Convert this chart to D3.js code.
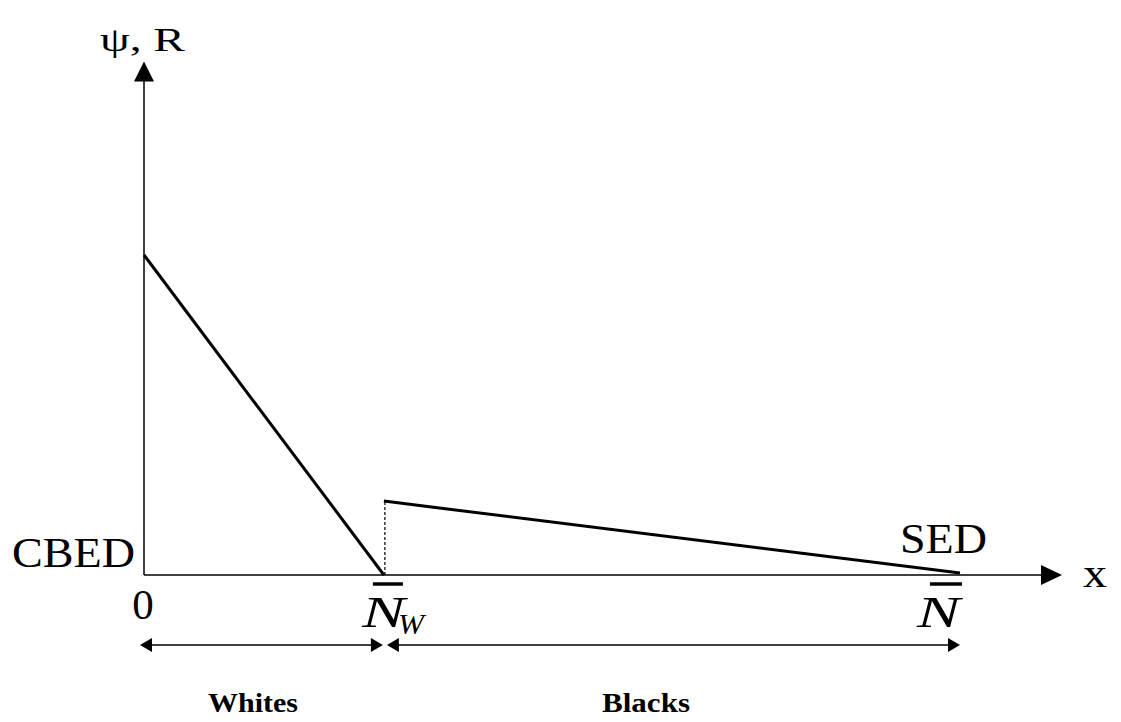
<!DOCTYPE html>
<html>
<head>
<meta charset="utf-8">
<script src="https://cdn.jsdelivr.net/npm/d3@7"></script>
<style>
  body { margin: 0; background: #fff; }
  text { font-family: "Liberation Serif", "Times New Roman", serif; fill: #000; }
</style>
</head>
<body>
<div id="chart"></div>
<script>
// positions along x (fraction of N) and the two curves
const xMarks = [0, 0.294, 1.0];
const whitesX = [0, 0.294];
const whitesY = [1.0, 0.0];
const blacksX = [0.294, 1.0];
const blacksY = [0.231, 0.006];

let svg = d3.select('#chart').append('svg')
    .attr('width', 1121)
    .attr('height', 722);

const x = d3.scaleLinear().domain([0, 1]).range([144, 960]);
const y = d3.scaleLinear().domain([0, 1]).range([575, 255]);

const xEnd = x(1.125);   // axis arrow tip
const yTop = y(1.605);

// axes
svg.append('line')
    .attr('x1', x(0)).attr('y1', y(0)).attr('x2', xEnd - 18).attr('y2', y(0))
    .attr('stroke', '#000').attr('stroke-width', 1.5);
svg.append('line')
    .attr('x1', x(0)).attr('y1', y(0)).attr('x2', x(0)).attr('y2', yTop + 18)
    .attr('stroke', '#000').attr('stroke-width', 1.5);

// arrow heads
svg.append('path')
    .attr('d', `M${xEnd},${y(0)} L${xEnd - 21},${y(0) - 10} L${xEnd - 21},${y(0) + 10} Z`);
svg.append('path')
    .attr('d', `M${x(0)},${yTop} L${x(0) - 10},${yTop + 20} L${x(0) + 10},${yTop + 20} Z`);

// curves
const line = d3.line().x(d => x(d[0])).y(d => y(d[1]));
svg.append('path')
    .attr('d', line(d3.zip(whitesX, whitesY)))
    .attr('fill', 'none').attr('stroke', '#000').attr('stroke-width', 3);
svg.append('path')
    .attr('d', line(d3.zip(blacksX, blacksY)))
    .attr('fill', 'none').attr('stroke', '#000').attr('stroke-width', 3);

// dashed jump at N_W
svg.append('line')
    .attr('x1', x(blacksX[0]) + 1).attr('x2', x(blacksX[0]) + 1)
    .attr('y1', y(0)).attr('y2', y(blacksY[0]))
    .attr('stroke', '#000').attr('stroke-width', 1.2)
    .attr('stroke-dasharray', '3,2');

// labels (textLength keeps the wide look of the original lettering)
function label(tx, ty, size, str, len, opts = {}) {
  const t = svg.append('text').attr('x', tx).attr('y', ty)
      .attr('font-size', size).text(str);
  if (len) t.attr('textLength', len).attr('lengthAdjust', 'spacingAndGlyphs');
  if (opts.anchor) t.attr('text-anchor', opts.anchor);
  if (opts.italic) t.attr('font-style', 'italic');
  if (opts.bold) t.attr('font-weight', 'bold');
  return t;
}
label(100, 51, 34, 'ψ, R', 85);
label(12, 567, 43, 'CBED', 123);
label(900, 553, 43, 'SED', 87);
label(1083, 587, 43, 'x', 24);
label(x(xMarks[0]) - 1, 619, 43, '0', null, {anchor: 'middle'});

// N_W with bar
const nw = x(xMarks[1]);
label(nw - 22, 627, 44, 'N', 43, {italic: true});
label(nw + 14, 634, 29, 'W', 26, {italic: true});
svg.append('line').attr('x1', nw - 11).attr('x2', nw + 19)
    .attr('y1', 584).attr('y2', 584).attr('stroke', '#000').attr('stroke-width', 3.5);

// N with bar
const nn = x(xMarks[2]);
label(nn - 43, 627, 44, 'N', 43, {italic: true});
svg.append('line').attr('x1', nn - 30).attr('x2', nn + 2)
    .attr('y1', 584).attr('y2', 584).attr('stroke', '#000').attr('stroke-width', 3.5);

// range arrows
const ya = 645;
function span(a, b) {
  svg.append('line').attr('x1', a + 10).attr('x2', b - 10)
      .attr('y1', ya).attr('y2', ya).attr('stroke', '#000').attr('stroke-width', 1.5);
  svg.append('path').attr('d', `M${a},${ya} L${a + 12},${ya - 7} L${a + 12},${ya + 7} Z`);
  svg.append('path').attr('d', `M${b},${ya} L${b - 12},${ya - 7} L${b - 12},${ya + 7} Z`);
}
span(x(xMarks[0]) - 4, x(xMarks[1]) - 1);
span(x(xMarks[1]) + 3, x(xMarks[2]));

label(253, 712, 27, 'Whites', 90, {anchor: 'middle', bold: true});
label(646, 712, 27, 'Blacks', 88, {anchor: 'middle', bold: true});
</script>
</body>
</html>
